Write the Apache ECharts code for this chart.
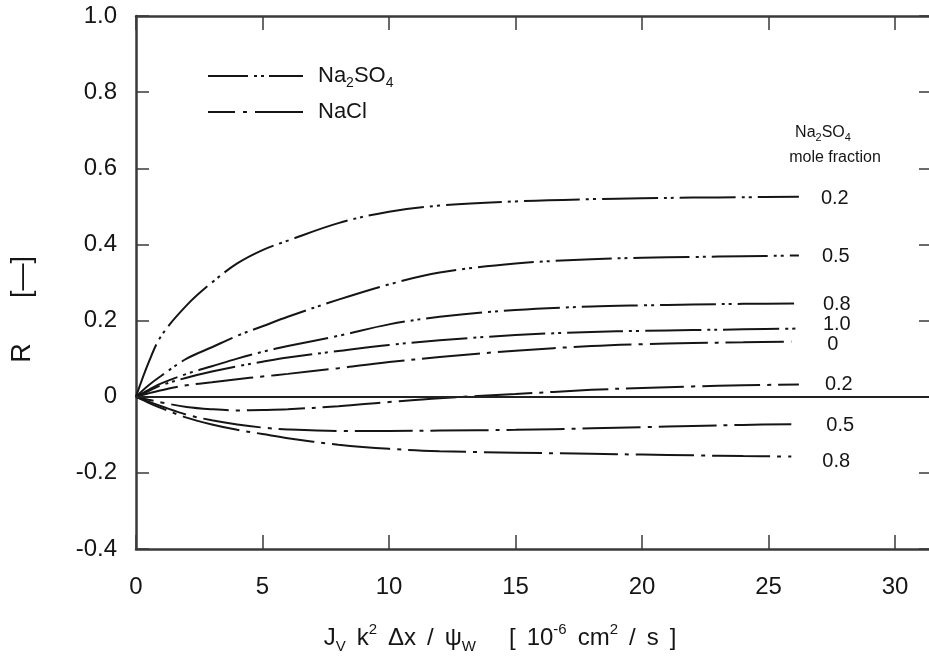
<!DOCTYPE html>
<html>
<head>
<meta charset="utf-8">
<script src="https://cdn.jsdelivr.net/npm/echarts@6/dist/echarts.min.js"></script>
<style>
  html, body { margin: 0; padding: 0; background: #fff; }
  #chart { width: 929px; height: 662px; }
</style>
</head>
<body>
<div id="chart"></div>
<script>
// x positions of the sampled points (10^-6 cm^2/s)
const xNa2SO4 = [0, 0.5, 1, 2, 3, 4, 5, 6, 8, 10, 12, 15, 18, 20, 22, 24, 26.2];
const xNaCl   = [0, 0.5, 1, 2, 3, 4, 5, 6, 8, 10, 12, 15, 18, 20, 22, 24, 25.9];

// Rejection of Na2SO4 at given Na2SO4 mole fraction
const na2so4_02 = [0, 0.09, 0.16, 0.24, 0.30, 0.35, 0.385, 0.41, 0.456, 0.486, 0.502, 0.513, 0.519, 0.521, 0.523, 0.524, 0.525];
const na2so4_05 = [0, 0.03, 0.055, 0.10, 0.13, 0.16, 0.185, 0.21, 0.255, 0.295, 0.326, 0.350, 0.361, 0.365, 0.367, 0.369, 0.371];
const na2so4_08 = [0, 0.018, 0.035, 0.06, 0.08, 0.10, 0.118, 0.133, 0.16, 0.19, 0.21, 0.228, 0.237, 0.24, 0.242, 0.244, 0.245];
const na2so4_10 = [0, 0.015, 0.03, 0.05, 0.066, 0.08, 0.092, 0.103, 0.12, 0.136, 0.148, 0.162, 0.17, 0.173, 0.175, 0.177, 0.179];

// Rejection of NaCl at given Na2SO4 mole fraction
const nacl_00 = [0, 0.009, 0.017, 0.03, 0.038, 0.046, 0.053, 0.06, 0.075, 0.091, 0.104, 0.121, 0.133, 0.138, 0.141, 0.143, 0.145];
const nacl_02 = [0, -0.008, -0.015, -0.027, -0.033, -0.036, -0.035, -0.033, -0.025, -0.014, -0.004, 0.007, 0.018, 0.023, 0.027, 0.030, 0.032];
const nacl_05 = [0, -0.013, -0.025, -0.047, -0.062, -0.073, -0.081, -0.086, -0.09, -0.09, -0.089, -0.087, -0.083, -0.08, -0.077, -0.074, -0.072];
const nacl_08 = [0, -0.016, -0.03, -0.055, -0.073, -0.087, -0.098, -0.109, -0.126, -0.137, -0.143, -0.147, -0.15, -0.152, -0.154, -0.156, -0.157];

// Curve labels (Na2SO4 mole fraction)
const fractionLabels = ['0.2', '0.5', '0.8', '1.0', '0', '0.2', '0.5', '0.8'];

// Axis ranges and ticks
const xTicks = [0, 5, 10, 15, 20, 25, 30];
const yTicks = [-0.4, -0.2, 0, 0.2, 0.4, 0.6, 0.8, 1.0];

const INK = '#151515';
const FRAME = '#3a3a3a';
const FONT = "'Liberation Sans', Arial, sans-serif";
const DASH_NA2SO4 = [56, 6, 3, 4, 3, 6];
const DASH_NACL = [58, 7, 4, 7];

function pairs(xs, ys) { return xs.map((x, i) => [x, ys[i]]); }

function curve(name, xs, ys, dash, label, offset, dashOffset) {
  return {
    type: 'line',
    name: name,
    data: pairs(xs, ys),
    smooth: 0.35,
    symbol: 'none',
    silent: true,
    lineStyle: { color: INK, width: 2, type: dash, dashOffset: dashOffset },
    itemStyle: { color: INK },
    endLabel: {
      show: true,
      formatter: label,
      fontFamily: FONT,
      fontSize: 20,
      color: INK,
      distance: 0,
      offset: offset
    },
    z: 3
  };
}

const series = [
  curve('Na2SO4', xNa2SO4, na2so4_02, DASH_NA2SO4, fractionLabels[0], [22, 2], 0),
  curve('Na2SO4', xNa2SO4, na2so4_05, DASH_NA2SO4, fractionLabels[1], [23, 1], 20),
  curve('Na2SO4', xNa2SO4, na2so4_08, DASH_NA2SO4, fractionLabels[2], [24, 1], 10),
  curve('Na2SO4', xNa2SO4, na2so4_10, DASH_NA2SO4, fractionLabels[3], [24, -4], 30),
  curve('NaCl', xNaCl, nacl_00, DASH_NACL, fractionLabels[4], [36, 3], 15),
  curve('NaCl', xNa2SO4, nacl_02, DASH_NACL, fractionLabels[5], [26, 0], 40),
  curve('NaCl', xNaCl, nacl_05, DASH_NACL, fractionLabels[6], [35, 1], 5),
  curve('NaCl', xNaCl, nacl_08, DASH_NACL, fractionLabels[7], [31, 5], 25)
];

// Baseline at R = 0 across the plot
series[0].markLine = {
  silent: true,
  symbol: 'none',
  label: { show: false },
  lineStyle: { color: '#222', width: 2, type: 'solid' },
  data: [{ yAxis: 0 }]
};

const axisLineStyle = { color: FRAME, width: 2.5 };
const tickStyle = { color: FRAME, width: 1.5 };

function frameAxis(extra, ticks) {
  return Object.assign({
    axisLine: { show: true, onZero: false, lineStyle: axisLineStyle },
    axisTick: { show: true, inside: true, length: 14, lineStyle: tickStyle, customValues: ticks },
    axisLabel: { show: false },
    splitLine: { show: false }
  }, extra);
}

const richBase = { fontFamily: FONT, fill: INK, color: INK };

const option = {
  backgroundColor: '#fff',
  animation: false,
  grid: {
    left: 136, right: -4, top: 16, bottom: 113,
    containLabel: false,
    outerBoundsMode: 'none'
  },
  legend: {
    orient: 'vertical',
    left: 202,
    top: 60,
    itemWidth: 95,
    itemHeight: 14,
    itemGap: 11,
    selectedMode: false,
    data: [
      { name: 'Na2SO4', itemStyle: { opacity: 0 }, lineStyle: { type: [40, 6, 3, 4, 3, 5, 60], width: 2, color: INK } },
      { name: 'NaCl', itemStyle: { opacity: 0 }, lineStyle: { type: [42, 8, 4, 8, 60], width: 2, color: INK } }
    ],
    formatter: function (name) {
      return name === 'Na2SO4' ? '{a|Na}{s|2}{a|SO}{s|4}' : '{a|NaCl}';
    },
    textStyle: {
      padding: [0, 0, 0, 10],
      rich: {
        a: Object.assign({ fontSize: 22, lineHeight: 28 }, richBase),
        s: Object.assign({ fontSize: 14, lineHeight: 14, verticalAlign: 'bottom' }, richBase)
      }
    }
  },
  xAxis: [
    frameAxis({
      type: 'value', position: 'bottom',
      min: 0, max: 31.5, interval: 5,
      axisLabel: {
        show: true, fontFamily: FONT, fontSize: 24, color: INK, margin: 26,
        customValues: xTicks,
        formatter: v => String(v)
      }
    }, xTicks),
    frameAxis({
      type: 'value', position: 'top',
      min: 0, max: 31.5, interval: 5
    }, xTicks)
  ],
  yAxis: [
    frameAxis({
      type: 'value', position: 'left',
      min: yTicks[0], max: yTicks[yTicks.length - 1], interval: 0.2,
      axisTick: { show: true, inside: true, length: 13, lineStyle: tickStyle, customValues: yTicks },
      axisLabel: {
        show: true, fontFamily: FONT, fontSize: 24, color: INK, margin: 19,
        customValues: yTicks,
        formatter: v => (Math.abs(v) < 1e-9 ? '0' : v.toFixed(1))
      }
    }, yTicks),
    frameAxis({
      type: 'value', position: 'right',
      min: yTicks[0], max: yTicks[yTicks.length - 1], interval: 0.2
    }, yTicks)
  ],
  graphic: [
    // y-axis title: "R  [—]" reading upward
    {
      type: 'text', x: 23, y: 353, rotation: Math.PI / 2,
      style: { text: 'R', fontFamily: FONT, fontSize: 27, fill: INK, align: 'center', verticalAlign: 'middle' }
    },
    {
      type: 'text', x: 23, y: 277, rotation: Math.PI / 2,
      style: { text: '[—]', fontFamily: FONT, fontSize: 27, fill: INK, align: 'center', verticalAlign: 'middle' }
    },
    // x-axis title
    {
      type: 'text', x: 500, y: 638,
      style: {
        text: '{a|J}{s|V}{g| }{a|k}{p|2}{g| }{a|Δx}{g| }{a|/}{g| }{a|ψ}{s|W}{w| }{a|[}{g| }{a|10}{p|-6}{g| }{a|cm}{p|2}{g| }{a|/}{g| }{a|s}{g| }{a|]}',
        align: 'center', verticalAlign: 'middle',
        rich: {
          a: Object.assign({ fontSize: 24, lineHeight: 32 }, richBase),
          s: Object.assign({ fontSize: 15, lineHeight: 15, verticalAlign: 'bottom' }, richBase),
          p: Object.assign({ fontSize: 15, lineHeight: 15, verticalAlign: 'top' }, richBase),
          g: Object.assign({ fontSize: 24, width: 11 }, richBase),
          w: Object.assign({ fontSize: 24, width: 33 }, richBase)
        }
      }
    },
    // curve-label heading
    {
      type: 'text', x: 823, y: 133,
      style: {
        text: '{a|Na}{s|2}{a|SO}{s|4}',
        align: 'center', verticalAlign: 'middle',
        rich: {
          a: Object.assign({ fontSize: 16, lineHeight: 20 }, richBase),
          s: Object.assign({ fontSize: 11, lineHeight: 11, verticalAlign: 'bottom' }, richBase)
        }
      }
    },
    {
      type: 'text', x: 835, y: 158,
      style: {
        text: 'mole fraction', fontFamily: FONT, fontSize: 16, fill: INK,
        align: 'center', verticalAlign: 'middle'
      }
    }
  ],
  series: series
};

const chart = echarts.init(document.getElementById('chart'), null, { renderer: 'canvas' });
chart.setOption(option);
</script>
</body>
</html>
